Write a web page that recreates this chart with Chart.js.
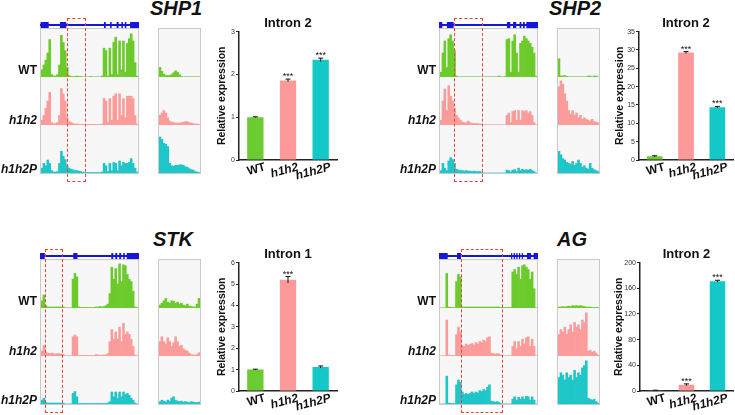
<!DOCTYPE html>
<html>
<head>
<meta charset="utf-8">
<script src="https://cdn.jsdelivr.net/npm/chart.js@4.4.0/dist/chart.umd.min.js"></script>
<style>
  body { margin: 0; background: #fff; font-family: "Liberation Sans", Arial, sans-serif; }
  #fig { position: relative; width: 735px; height: 415px; overflow: hidden; background: #fff; }
  .abs { position: absolute; }
  .gene { font-size: 20px; font-weight: bold; font-style: italic; line-height: 20px; text-align: center; color: #111; }
  .lab { font-size: 12px; font-weight: bold; line-height: 12px; text-align: right; color: #111; white-space: nowrap; }
  .box { box-sizing: border-box; border: 1px solid #c9c9c9; background: #f7f7f7; }
  .sep { position: absolute; left: 0; height: 1px; background: #dadada; }
  .hl { box-sizing: border-box; border: 1px dashed #e5453d; }
  canvas { position: absolute; }
</style>
</head>
<body>
<div id="fig"></div>
<script>
// ___________ data ___________ //
const genotypes = ["WT", "h1h2", "h1h2P"];

// gene models, exon spans on a 0-50 scale
const shp1Exons = [[0.3, 4.4], [10.1, 13.3], [32.3, 33.2], [35.4, 36.2], [38.7, 39.7], [41.1, 41.9], [42.8, 43.6], [45.5, 50]];
const shp2Exons = [[0, 1.7], [4, 7.4], [34.3, 36], [37.4, 39], [40.7, 41.6], [42.4, 43.3], [44.1, 50]];
const stkExons = [[0, 2.4], [16.8, 18.9], [36, 37], [38, 39], [40, 41], [42, 42.8], [43.8, 50]];
const agExons = [[0, 4.4], [9.1, 11.1], [36.4, 37], [37.7, 38.4], [39, 39.7], [40.4, 41], [41.8, 42.4], [44.4, 46.5], [47.8, 50]];

// read coverage, 50 bins across the gene (fraction of track height)
const shp1WT = [0.15, 0.25, 0.35, 0.5, 0.78, 0.05, 0.02, 0.02, 0.05, 0.25,
  0.87, 0.72, 0.55, 0.2, 0.03, 0.01, 0.01, 0.01, 0.02, 0.01,
  0.01, 0, 0, 0, 0, 0.01, 0, 0, 0, 0,
  0, 0.02, 0.6, 0.55, 0.02, 0.6, 0.05, 0.72, 0.83, 0.05,
  0.75, 0.15, 0.75, 0.1, 0.7, 0.8, 0.9, 0.75, 0.3, 0.02];
const shp1H1h2 = [0.1, 0.2, 0.35, 0.5, 0.68, 0.05, 0.03, 0.03, 0.05, 0.2,
  0.76, 0.65, 0.5, 0.15, 0.07, 0.05, 0.03, 0.02, 0.02, 0.01,
  0.01, 0.01, 0.01, 0.01, 0.01, 0.01, 0.01, 0.01, 0.01, 0.01,
  0.01, 0.02, 0.55, 0.5, 0.05, 0.55, 0.1, 0.6, 0.65, 0.1,
  0.65, 0.2, 0.55, 0.15, 0.6, 0.6, 0.6, 0.55, 0.2, 0.02];
const shp1H1h2P = [0.1, 0.2, 0.15, 0.27, 0.2, 0.05, 0.02, 0.02, 0.03, 0.2,
  0.45, 0.35, 0.28, 0.15, 0.1, 0.08, 0.07, 0.05, 0.05, 0.04,
  0.03, 0.02, 0.01, 0.01, 0.01, 0.01, 0.01, 0.01, 0.01, 0.01,
  0.01, 0.02, 0.2, 0.15, 0.03, 0.2, 0.05, 0.22, 0.2, 0.05,
  0.25, 0.15, 0.22, 0.2, 0.2, 0.22, 0.3, 0.2, 0.1, 0.02];

const shp2WT = [0.1, 0.5, 0.75, 0.2, 0.8, 0.88, 0.75, 0.55, 0.02, 0,
  0, 0, 0, 0, 0, 0, 0, 0, 0, 0,
  0, 0, 0, 0, 0, 0, 0, 0, 0, 0,
  0.02, 0, 0, 0.01, 0.78, 0.8, 0.1, 0.75, 0.88, 0.5,
  0.1, 0.7, 0.75, 0.85, 0.8, 0.75, 0.7, 0.62, 0.5, 0.02];
const shp2H1h2 = [0.1, 0.5, 0.75, 0.3, 0.82, 0.6, 0.5, 0.35, 0.2, 0.15,
  0.1, 0.06, 0.05, 0.04, 0.08, 0.05, 0.03, 0.03, 0.03, 0.03,
  0.02, 0.02, 0, 0, 0, 0, 0, 0, 0, 0,
  0, 0, 0, 0, 0.2, 0.25, 0.05, 0.28, 0.3, 0.1,
  0.3, 0.1, 0.3, 0.28, 0.3, 0.25, 0.28, 0.2, 0.05, 0];
const shp2H1h2P = [0.05, 0.2, 0.1, 0.05, 0.25, 0.32, 0.28, 0.2, 0.08, 0.06,
  0.05, 0.05, 0.04, 0.05, 0.04, 0.04, 0.03, 0.04, 0.03, 0.03,
  0.03, 0.02, 0, 0, 0, 0, 0, 0, 0, 0,
  0, 0, 0, 0, 0.06, 0.05, 0.02, 0.06, 0.07, 0.03,
  0.1, 0.05, 0.08, 0.06, 0.07, 0.06, 0.08, 0.05, 0.03, 0];

const stkWT = [0.15, 0.27, 0.05, 0.02, 0.02, 0.02, 0.02, 0.02, 0.02, 0.02,
  0.02, 0.02, 0, 0, 0, 0, 0.6, 0.72, 0.65, 0.02,
  0.01, 0.01, 0.01, 0.01, 0.01, 0.01, 0.01, 0.01, 0.02, 0.02,
  0.03, 0.02, 0.03, 0.05, 0.08, 0.3, 0.85, 0.6, 0.82, 0.5,
  0.92, 0.55, 0.9, 0.88, 0.7, 0.6, 0.55, 0.35, 0.02, 0.01];
const stkH1h2 = [0.1, 0.22, 0.08, 0.06, 0.05, 0.06, 0.05, 0.04, 0.05, 0.05,
  0.04, 0.03, 0, 0, 0, 0, 0.4, 0.44, 0.4, 0.01,
  0.01, 0.01, 0.01, 0.01, 0.01, 0.01, 0.01, 0.01, 0.03, 0.02,
  0.01, 0.02, 0.02, 0.02, 0.05, 0.3, 0.55, 0.35, 0.5, 0.35,
  0.6, 0.3, 0.68, 0.45, 0.5, 0.45, 0.35, 0.2, 0.02, 0];
const stkH1h2P = [0.08, 0.12, 0.03, 0.02, 0.02, 0.02, 0.02, 0.02, 0.02, 0.02,
  0.02, 0.02, 0, 0, 0, 0, 0.22, 0.26, 0.15, 0.01,
  0.01, 0.01, 0.01, 0.01, 0.01, 0.01, 0.01, 0.01, 0.01, 0.01,
  0.01, 0.01, 0.01, 0.01, 0.02, 0.05, 0.25, 0.15, 0.25, 0.12,
  0.25, 0.15, 0.25, 0.2, 0.22, 0.18, 0.12, 0.08, 0.02, 0];

const agWT = [0, 0, 0, 0.72, 0.02, 0.01, 0.01, 0.01, 0.55, 0.7,
  0.65, 0.02, 0.02, 0.02, 0.02, 0.02, 0.02, 0.02, 0.02, 0.02,
  0.02, 0.02, 0.02, 0.02, 0.02, 0.02, 0.02, 0.02, 0.02, 0.02,
  0.02, 0.01, 0.01, 0.01, 0.01, 0.01, 0.01, 0.75, 0.8, 0.7,
  0.85, 0.6, 0.88, 0.9, 0.85, 0.8, 0.6, 0.75, 0.4, 0];
const agH1h2 = [0, 0, 0, 0.75, 0.02, 0.01, 0.01, 0.01, 0.45, 0.6,
  0.5, 0.22, 0.2, 0.25, 0.22, 0.24, 0.26, 0.23, 0.28, 0.25,
  0.3, 0.28, 0.33, 0.3, 0.38, 0.4, 0.06, 0.05, 0.04, 0.05,
  0.04, 0.02, 0, 0, 0, 0, 0, 0.2, 0.3, 0.15,
  0.3, 0.2, 0.35, 0.25, 0.38, 0.4, 0.2, 0.35, 0.2, 0];
const agH1h2P = [0, 0, 0, 0.58, 0.02, 0.01, 0.01, 0.01, 0.4, 0.5,
  0.45, 0.25, 0.2, 0.22, 0.2, 0.22, 0.25, 0.22, 0.25, 0.23,
  0.28, 0.26, 0.3, 0.28, 0.35, 0.4, 0.06, 0.05, 0.04, 0.05,
  0.03, 0.01, 0, 0, 0, 0, 0, 0.1, 0.15, 0.08,
  0.14, 0.1, 0.15, 0.1, 0.16, 0.15, 0.08, 0.15, 0.08, 0];

// close-up of the retained intron, 21 bins
const shp1ZoomWT = [0.2, 0.12, 0.06, 0.03, 0.03, 0.03, 0.05, 0.09, 0.13, 0.1, 0.05, 0.01, 0, 0, 0, 0, 0, 0, 0, 0, 0];
const shp1ZoomH1h2 = [0.2, 0.25, 0.3, 0.25, 0.15, 0.08, 0.06, 0.05, 0.04, 0.04, 0.04, 0.05, 0.06, 0.07, 0.07, 0.05, 0.04, 0.03, 0.02, 0.02, 0.01];
const shp1ZoomH1h2P = [0.75, 0.7, 0.62, 0.6, 0.55, 0.2, 0.15, 0.14, 0.16, 0.16, 0.17, 0.17, 0.16, 0.13, 0.12, 0.09, 0.07, 0.06, 0.03, 0.02, 0.01];
const shp2ZoomWT = [0.38, 0.02, 0.02, 0.03, 0.01, 0, 0, 0, 0, 0, 0, 0, 0, 0, 0, 0.02, 0.02, 0, 0.02, 0.02, 0];
const shp2ZoomH1h2 = [0.8, 0.92, 0.85, 0.65, 0.5, 0.3, 0.22, 0.3, 0.2, 0.25, 0.15, 0.2, 0.12, 0.15, 0.12, 0.1, 0.08, 0.12, 0.07, 0.06, 0.05];
const shp2ZoomH1h2P = [0.45, 0.38, 0.3, 0.27, 0.22, 0.2, 0.18, 0.24, 0.16, 0.2, 0.27, 0.2, 0.12, 0.15, 0.1, 0.08, 0.2, 0.1, 0.07, 0.05, 0.03];
const stkZoomWT = [0.06, 0.1, 0.15, 0.2, 0.12, 0.1, 0.15, 0.14, 0.1, 0.12, 0.08, 0.1, 0.06, 0.05, 0.08, 0.04, 0.03, 0.02, 0.02, 0.08, 0.2];
const stkZoomH1h2 = [0.3, 0.4, 0.3, 0.25, 0.38, 0.3, 0.2, 0.28, 0.4, 0.3, 0.2, 0.22, 0.15, 0.12, 0.1, 0.06, 0.03, 0.02, 0.02, 0.03, 0.07];
const stkZoomH1h2P = [0.05, 0.08, 0.06, 0.04, 0.08, 0.06, 0.12, 0.15, 0.08, 0.06, 0.05, 0.06, 0.04, 0.05, 0.04, 0.03, 0.05, 0.04, 0.03, 0.03, 0.04];
const agZoomWT = [0.02, 0.02, 0.03, 0.02, 0.03, 0.04, 0.03, 0.05, 0.04, 0.05, 0.04, 0.05, 0.04, 0.03, 0.02, 0.02, 0.02, 0.01, 0.01, 0.01, 0.01];
const agZoomH1h2 = [0.45, 0.55, 0.5, 0.6, 0.45, 0.55, 0.65, 0.5, 0.7, 0.6, 0.65, 0.55, 0.75, 0.7, 0.9, 0.1, 0.12, 0.08, 0.1, 0.06, 0.02];
const agZoomH1h2P = [0.55, 0.65, 0.6, 0.5, 0.65, 0.55, 0.6, 0.5, 0.7, 0.55, 0.65, 0.6, 0.75, 0.8, 0.9, 0.12, 0.1, 0.08, 0.1, 0.05, 0.02];

// qRT-PCR, relative expression of the intron
const shp1Expr = [1.0, 1.86, 2.34];
const shp1Err = [0.01, 0.03, 0.04];
const shp1Stars = ["", "***", "***"];
const shp2Expr = [1.0, 29.3, 14.4];
const shp2Err = [0.15, 0.25, 0.2];
const shp2Stars = ["", "***", "***"];
const stkExpr = [1.0, 5.2, 1.12];
const stkErr = [0.02, 0.15, 0.05];
const stkStars = ["", "***", ""];
const agExpr = [1.0, 9.6, 171];
const agErr = [0.2, 1.5, 1.5];
const agStars = ["", "***", "***"];

// ___________ styles / layout ___________ //
const BLUE = "#1616d8";
const TRACK_COLORS = ["#6ccb2c", "#fb9c9b", "#1ec6c8"];
const BAR_COLORS = ["#6acc30", "#fd9a99", "#14c8c8"];
const FONT = '"Liberation Sans", Arial, Helvetica, sans-serif';

const panels = [
  { ox: 0, oy: 0, name: "SHP1", nameX: 176, exons: shp1Exons,
    main: [shp1WT, shp1H1h2, shp1H1h2P], zoom: [shp1ZoomWT, shp1ZoomH1h2, shp1ZoomH1h2P], hl: [67, 86],
    intron: "Intron 2", expr: shp1Expr, err: shp1Err, stars: shp1Stars, yMax: 3, yStep: 1,
    chartW: 145, padRight: 8, axisW: 39, titlePad: 16 },
  { ox: 399, oy: 0, name: "SHP2", nameX: 176, exons: shp2Exons,
    main: [shp2WT, shp2H1h2, shp2H1h2P], zoom: [shp2ZoomWT, shp2ZoomH1h2, shp2ZoomH1h2P], hl: [55, 84],
    intron: "Intron 2", expr: shp2Expr, err: shp2Err, stars: shp2Stars, yMax: 35, yStep: 5,
    chartW: 136, padRight: 2, axisW: 40, titlePad: 15 },
  { ox: 0, oy: 231, name: "STK", nameX: 173, exons: stkExons,
    main: [stkWT, stkH1h2, stkH1h2P], zoom: [stkZoomWT, stkZoomH1h2, stkZoomH1h2P], hl: [45, 63],
    intron: "Intron 1", expr: stkExpr, err: stkErr, stars: stkStars, yMax: 6, yStep: 1,
    chartW: 145, padRight: 8, axisW: 39, titlePad: 16 },
  { ox: 399, oy: 231, name: "AG", nameX: 173, exons: agExons,
    main: [agWT, agH1h2, agH1h2P], zoom: [agZoomWT, agZoomH1h2, agZoomH1h2P], hl: [62, 104],
    intron: "Intron 2", expr: agExpr, err: agErr, stars: agStars, yMax: 200, yStep: 40,
    chartW: 136, padRight: 2, axisW: 41, titlePad: 14 },
];

Chart.defaults.font.family = FONT;
Chart.defaults.color = "#111";

const fig = document.getElementById("fig");

function addDiv(parent, cls, x, y, w, h, html) {
  const d = document.createElement("div");
  d.className = cls;
  d.style.left = x + "px";
  d.style.top = y + "px";
  if (w != null) d.style.width = w + "px";
  if (h != null) d.style.height = h + "px";
  if (html) d.innerHTML = html;
  parent.appendChild(d);
  return d;
}

function addCanvas(parent, x, y, w, h) {
  const c = document.createElement("canvas");
  c.width = w;
  c.height = h;
  c.style.left = x + "px";
  c.style.top = y + "px";
  parent.appendChild(c);
  return c;
}

const quiet = {
  responsive: false,
  animation: false,
  events: [],
};

// ___________ error bars + stars ___________ //
const errorBars = {
  id: "errorBars",
  afterDatasetsDraw(chart, args, opts) {
    const { ctx } = chart;
    const y = chart.scales.y;
    const vals = chart.data.datasets[0].data;
    chart.getDatasetMeta(0).data.forEach((bar, i) => {
      const top = y.getPixelForValue(vals[i] + opts.errors[i]);
      const bot = y.getPixelForValue(vals[i] - opts.errors[i]);
      ctx.save();
      ctx.strokeStyle = "#111";
      ctx.lineWidth = 1;
      ctx.beginPath();
      ctx.moveTo(bar.x, top);
      ctx.lineTo(bar.x, bot);
      ctx.moveTo(bar.x - 2.5, top);
      ctx.lineTo(bar.x + 2.5, top);
      ctx.stroke();
      if (opts.stars[i]) {
        ctx.fillStyle = "#111";
        ctx.font = "9px " + FONT;
        ctx.textAlign = "center";
        ctx.textBaseline = "alphabetic";
        ctx.fillText(opts.stars[i], bar.x, top);
      }
      ctx.restore();
    });
  },
};

// slanted genotype names under the bars
const slantLabels = {
  id: "slantLabels",
  afterDraw(chart) {
    const { ctx } = chart;
    const xs = chart.scales.x;
    chart.data.labels.forEach((lab, i) => {
      ctx.save();
      ctx.translate(xs.getPixelForValue(i) + 10, xs.top + 7);
      ctx.rotate((-15 * Math.PI) / 180);
      ctx.font = (i ? "italic " : "") + "bold 12px " + FONT;
      ctx.fillStyle = "#111";
      ctx.textAlign = "right";
      ctx.textBaseline = "middle";
      ctx.fillText(lab, 0, 0);
      ctx.restore();
    });
  },
};

// ___________ gene model ___________ //
function geneModel(x, y, w, h, exons) {
  const c = addCanvas(fig, x, y, w, h);
  new Chart(c, {
    type: "bar",
    data: {
      labels: ["gene"],
      datasets: [
        { data: [{ x: [0, 50], y: "gene" }], backgroundColor: BLUE, maxBarThickness: 2, grouped: false },
        { data: exons.map((e) => ({ x: e, y: "gene" })), backgroundColor: BLUE, maxBarThickness: 6, grouped: false },
      ],
    },
    options: {
      ...quiet,
      indexAxis: "y",
      layout: { padding: 0 },
      plugins: { legend: { display: false }, tooltip: { enabled: false } },
      scales: {
        x: { type: "linear", display: false, min: 0, max: 50 },
        y: { display: false },
      },
    },
  });
}

// ___________ coverage tracks ___________ //
function trackBox(x, y, w, series) {
  const box = addDiv(fig, "abs box", x, y, w, 146);
  const inner = w - 2;
  addDiv(box, "sep", 0, 47, inner, 1);
  addDiv(box, "sep", 0, 95, inner, 1);
  series.forEach((vals, i) => {
    const c = addCanvas(box, 0, i * 48, inner, 48);
    new Chart(c, {
      type: "bar",
      data: {
        labels: vals.map((_, k) => k),
        datasets: [{ data: vals, backgroundColor: TRACK_COLORS[i], borderWidth: 0, barPercentage: 1, categoryPercentage: 1 }],
      },
      options: {
        ...quiet,
        layout: { padding: 0 },
        plugins: { legend: { display: false }, tooltip: { enabled: false } },
        scales: { x: { display: false }, y: { display: false, min: 0, max: 1 } },
      },
    });
  });
}

// ___________ bar chart ___________ //
function barChart(x, y, p) {
  const c = addCanvas(fig, x, y, p.chartW, 195);
  new Chart(c, {
    type: "bar",
    data: {
      labels: genotypes,
      datasets: [{ data: p.expr, backgroundColor: BAR_COLORS, borderWidth: 0, categoryPercentage: 1, barPercentage: 0.5 }],
    },
    options: {
      ...quiet,
      layout: { padding: { left: 0, right: p.padRight, top: 0, bottom: 0 } },
      plugins: {
        legend: { display: false },
        tooltip: { enabled: false },
        title: {
          display: true, text: p.intron, fullSize: false, color: "#111",
          font: { size: 13, weight: "bold" }, padding: { top: 16, bottom: 0 },
        },
        errorBars: { errors: p.err, stars: p.stars },
      },
      scales: {
        x: {
          grid: { display: false, drawTicks: false },
          border: { color: "#222", width: 1.5 },
          ticks: { display: false },
          afterFit: (s) => { s.height = 35; },
        },
        y: {
          min: 0, max: p.yMax,
          grid: { drawOnChartArea: false, tickLength: 3, color: "#222" },
          border: { color: "#222", width: 1.5 },
          ticks: { stepSize: p.yStep, font: { size: 7 }, color: "#333", padding: 1 },
          title: {
            display: true, text: "Relative expression", color: "#111",
            font: { size: 10.5, weight: "bold" }, padding: { top: p.titlePad, bottom: 0 },
          },
          afterFit: (s) => { s.width = p.axisW; },
        },
      },
    },
    plugins: [errorBars, slantLabels],
  });
}

// ___________ panels ___________ //
const labelTops = [64, 114, 163];

panels.forEach((p) => {
  const X = (v) => p.ox + v;
  const Y = (v) => p.oy + v;
  addDiv(fig, "abs gene", X(p.nameX - 50), Y(-2), 100, 22, p.name);
  geneModel(X(40), Y(20), 99, 10, p.exons);
  trackBox(X(40), Y(28), 99, p.main);
  trackBox(X(158), Y(28), 43, p.zoom);
  addDiv(fig, "abs hl", X(p.hl[0]), Y(18), p.hl[1] - p.hl[0], 164);
  genotypes.forEach((g, i) => {
    addDiv(fig, "abs lab", X(-13), Y(labelTops[i]), 50, 14, i ? "<i>" + g + "</i>" : g);
  });
  barChart(X(200), Y(0), p);
});
</script>
</body>
</html>
